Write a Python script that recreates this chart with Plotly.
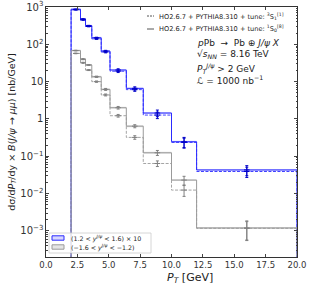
import plotly.graph_objects as go

# ---- data ----
pt_edges = [2.0, 2.75, 3.15, 3.65, 4.4, 5.1, 6.4, 7.75, 10.0, 12.0, 20.0]

# forward rapidity (1.2 < y < 1.6), already x10
fwd_1S08 = [870, 475, 316, 150, 66, 20.5, 6.6, 1.44, 0.245, 0.043]
fwd_3S11 = [840, 450, 300, 140, 62, 19.0, 6.1, 1.27, 0.235, 0.039]
fwd_1S08_err = [9, 9, 6, 4.5, 3, 1.6, 0.66, 0.29, 0.075, 0.013]
fwd_3S11_err = [8, 9, 6, 4.0, 3, 1.5, 0.60, 0.25, 0.070, 0.012]

# backward rapidity (-1.6 < y < -1.2)
bwd_1S08 = [68, 40, 28, 13.5, 6.2, 2.0, 0.64, 0.124, 0.023, 0.0012]
bwd_3S11 = [57, 32, 20.4, 10.0, 4.4, 1.22, 0.32, 0.064, 0.0124, 0.00117]
bwd_1S08_err = [1.4, 1.2, 0.8, 0.5, 0.37, 0.16, 0.06, 0.019, 0.006, 0.00065]
bwd_3S11_err = [1.1, 1.0, 0.6, 0.4, 0.26, 0.10, 0.035, 0.011, 0.004, 0.0006]

x_ticks = [0, 2.5, 5, 7.5, 10, 12.5, 15, 17.5, 20]
y_log_range = [-3.7, 3.0]

BLUE = "#2b2bff"
BLUE_BAND = "rgba(120,120,255,0.3)"
BLUE_ERR = "#0000c8"
GRAY = "#9a9a9a"
GRAY_BAND = "rgba(170,170,170,0.3)"
GRAY_ERR = "#808080"

base = 10 ** (y_log_range[0] - 1)
centers = [(a + b) / 2 for a, b in zip(pt_edges[:-1], pt_edges[1:])]

fig = go.Figure()


def step_xy(vals):
    xs = [pt_edges[0]] + pt_edges + [pt_edges[-1]]
    ys = [base] + list(vals) + [vals[-1], base]
    return xs, ys


def add_series(solid, dashed, solid_err, dashed_err, color, band, errcol):
    lo = [v * 0.94 for v in solid]
    hi = [v * 1.06 for v in solid]
    fig.add_trace(go.Scatter(x=pt_edges, y=lo + [lo[-1]], mode="lines",
                             line=dict(width=0, shape="hv"), showlegend=False,
                             hoverinfo="skip"))
    fig.add_trace(go.Scatter(x=pt_edges, y=hi + [hi[-1]], mode="lines",
                             line=dict(width=0, shape="hv"), fill="tonexty",
                             fillcolor=band, showlegend=False, hoverinfo="skip"))
    xs, ys = step_xy(dashed)
    fig.add_trace(go.Scatter(x=xs, y=ys, mode="lines",
                             line=dict(color=color, width=0.9, shape="hv", dash="3px,1.5px"),
                             showlegend=False))
    xs, ys = step_xy(solid)
    fig.add_trace(go.Scatter(x=xs, y=ys, mode="lines",
                             line=dict(color=color, width=1, shape="hv"),
                             showlegend=False))
    for vals, err in ((solid, solid_err), (dashed, dashed_err)):
        fig.add_trace(go.Scatter(
            x=centers, y=vals, mode="markers",
            marker=dict(symbol="line-ew-open", size=4, color=errcol,
                        line=dict(color=errcol, width=1)),
            error_y=dict(type="data", array=err, color=errcol, thickness=1, width=1.5),
            showlegend=False))


add_series(fwd_1S08, fwd_3S11, fwd_1S08_err, fwd_3S11_err, BLUE, BLUE_BAND, BLUE_ERR)
add_series(bwd_1S08, bwd_3S11, bwd_1S08_err, bwd_3S11_err, GRAY, GRAY_BAND, GRAY_ERR)

FONT = "DejaVu Sans"

fig.update_layout(
    width=311, height=285,
    margin=dict(l=46, r=14, t=7, b=28, autoexpand=False),
    paper_bgcolor="white", plot_bgcolor="white",
    font=dict(family=FONT, size=9, color="#222"),
    showlegend=False,
)
fig.update_xaxes(
    range=[0, 20], tickvals=x_ticks, ticktext=[f"{v:.1f}" for v in x_ticks],
    ticks="inside", ticklen=3, mirror="allticks", showline=True, automargin=False,
    linecolor="#333", linewidth=1, showgrid=False, zeroline=False,
    tickfont=dict(size=8.5, color="#333"),
)
fig.update_yaxes(
    type="log", range=y_log_range, dtick=1, exponentformat="power",
    ticks="inside", ticklen=3, mirror="allticks", showline=True, automargin=False,
    linecolor="#333", linewidth=1, showgrid=False, zeroline=False,
    tickfont=dict(size=8, color="#333"),
    minor=dict(ticks="inside", ticklen=1.5, showgrid=False),
    title=dict(text="dσ/d<i>P<sub>T</sub></i>/dy × <i>B</i>(<i>J/ψ</i> → <i>μμ</i>) [nb/GeV]",
               font=dict(size=9.5, color="#222"), standoff=3),
)

# x-axis title placed explicitly
fig.add_annotation(xref="paper", yref="paper", x=(190 - 46) / 251,
                   y=1 - (278 - 7) / 250, xanchor="center", yanchor="middle",
                   showarrow=False, text="<i>P<sub>T</sub></i> [GeV]",
                   font=dict(size=11, color="#222"))

# top-right legend (model lines)
leg_rows = [("HO2.6.7 + PYTHIA8.310 + tune: <sup>3</sup>S<sub>1</sub><sup>[1]</sup>", "dash", 16),
            ("HO2.6.7 + PYTHIA8.310 + tune: <sup>1</sup>S<sub>0</sub><sup>[8]</sup>", "solid", 29)]
for txt, dash, ypx in leg_rows:
    yp = 1 - (ypx - 7) / 250
    fig.add_shape(type="line", xref="paper", yref="paper",
                  x0=(147 - 46) / 251, x1=(154 - 46) / 251, y0=yp, y1=yp,
                  line=dict(color="#555", width=1, dash="2px,1px" if dash == "dash" else "solid"))
    fig.add_annotation(xref="paper", yref="paper", x=(157 - 46) / 251, y=yp,
                       xanchor="left", yanchor="middle", showarrow=False,
                       text=txt, font=dict(size=6.6, color="#222"))

info = [("<i>p</i>Pb  →  Pb ⊕ <i>J/ψ X</i>", 43),
        ("√<i>s<sub>NN</sub></i> = 8.16 TeV", 55),
        ("<i>P<sub>T</sub><sup>J/ψ</sup></i> > 2 GeV", 68),
        ("<i>ℒ</i> = 1000 nb<sup>−1</sup>", 80)]
for txt, ypx in info:
    fig.add_annotation(xref="paper", yref="paper", x=(195 - 46) / 251,
                       y=1 - (ypx - 7) / 250, xanchor="left", yanchor="middle",
                       showarrow=False, text=txt, font=dict(size=9, color="#222"))

# bottom-left legend (rapidity bands)
fig.add_shape(type="rect", xref="paper", yref="paper",
              x0=(49 - 46) / 251, x1=(151 - 46) / 251,
              y0=1 - (253 - 7) / 250, y1=1 - (233 - 7) / 250,
              line=dict(color="#cccccc", width=0.8), fillcolor="rgba(255,255,255,0.8)")
bl_rows = [("(1.2 < <i>y<sup>J/ψ</sup></i> < 1.6) × 10", BLUE, BLUE_BAND, 238),
           ("(−1.6 < <i>y<sup>J/ψ</sup></i> < −1.2)", GRAY, GRAY_BAND, 247)]
for txt, lc, fc, ypx in bl_rows:
    fig.add_shape(type="rect", xref="paper", yref="paper",
                  x0=(52 - 46) / 251, x1=(64 - 46) / 251,
                  y0=1 - (ypx + 2.2 - 7) / 250, y1=1 - (ypx - 2.2 - 7) / 250,
                  line=dict(color=lc, width=1), fillcolor=fc)
    fig.add_annotation(xref="paper", yref="paper", x=(69 - 46) / 251,
                       y=1 - (ypx - 7) / 250, xanchor="left", yanchor="middle",
                       showarrow=False, text=txt, font=dict(size=6.3, color="#222"))

fig.write_html("out.html", config={"displayModeBar": False},
               post_script="document.body.style.margin='0';document.body.style.padding='0';")
